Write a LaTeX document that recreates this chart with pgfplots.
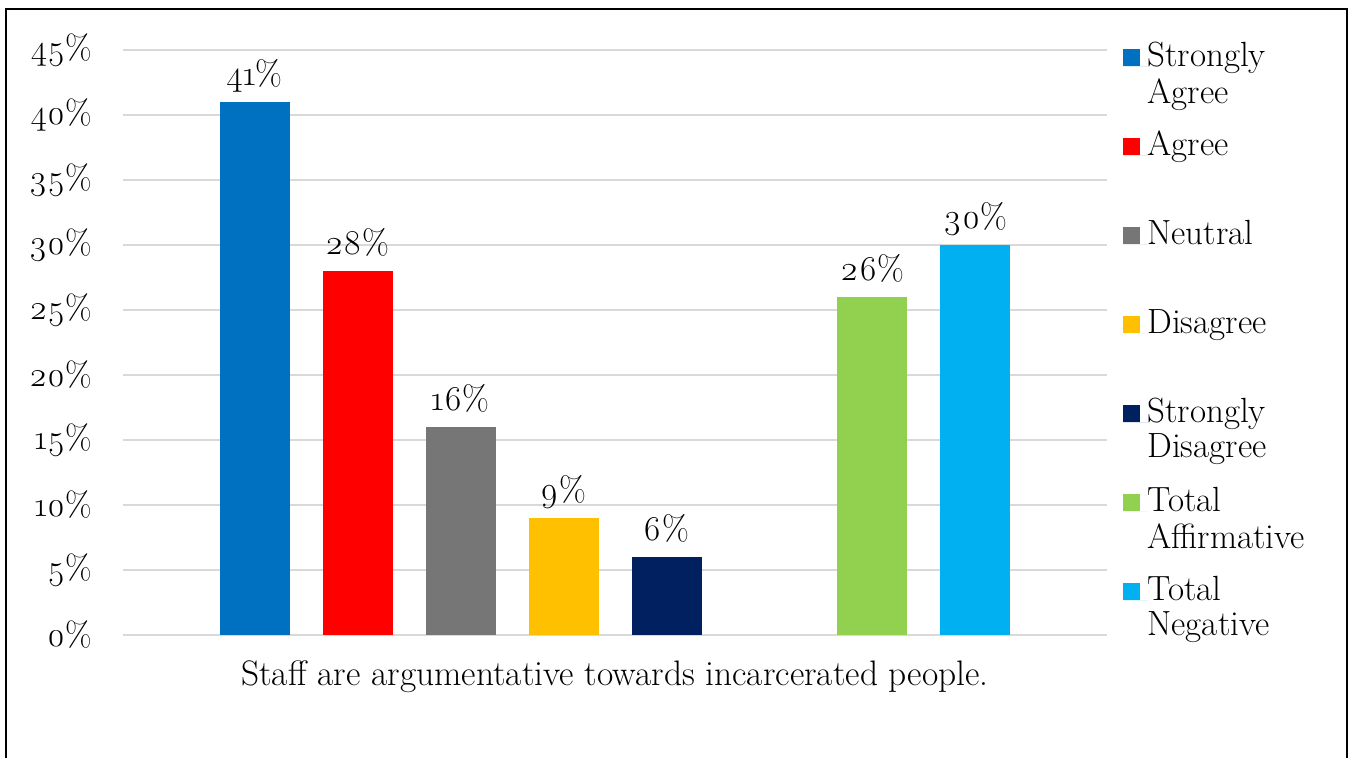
\documentclass[border=0pt]{standalone}
\usepackage{fontspec}
\setmainfont{Latin Modern Roman}[Numbers=OldStyle]
\usepackage{pgfplots}
\pgfplotsset{compat=1.18}
\definecolor{csa}{HTML}{0070C0}
\definecolor{cag}{HTML}{FF0000}
\definecolor{cne}{HTML}{767676}
\definecolor{cdi}{HTML}{FFC000}
\definecolor{csd}{HTML}{002060}
\definecolor{cta}{HTML}{92D050}
\definecolor{ctn}{HTML}{00B0F0}
\definecolor{cgrid}{HTML}{D9D9D9}
\newcommand{\legtext}[1]{\parbox[t]{120pt}{\strut#1}}
\begin{document}
\begin{tikzpicture}
\begin{axis}[
  at={(61.5pt,61pt)}, anchor=south west,
  scale only axis, width=492pt, height=292.5pt,
  xmin=-1.277, xmax=8.277, ymin=0, ymax=45,
  ybar, bar shift=0pt, bar width=35pt,
  axis line style={draw=none},
  xtick=\empty,
  ytick={0,5,...,45},
  major tick length=0pt,
  ymajorgrids, grid style={draw=cgrid, line width=0.75pt},
  /pgf/number format/assume math mode=true,
  yticklabel={\pgfmathprintnumber{\tick}\%},
  yticklabel style={anchor=east, inner xsep=0pt, xshift=-15.5pt},
  tick label style={font=\fontsize{17.2}{20}\selectfont},
  nodes near coords={\pgfmathprintnumber{\pgfplotspointmeta}\%},
  nodes near coords style={anchor=base, yshift=8.5pt, font=\fontsize{17.4}{20}\selectfont, text=black},
  xlabel={Staff are argumentative towards incarcerated people.},
  xlabel style={at={(axis description cs:0.5,0)}, anchor=base, yshift=-25pt, font=\fontsize{17.7}{21}\selectfont},
  legend style={at={(axis description cs:1.01626,1.0145)}, anchor=north west, draw=none, fill=none, inner sep=0pt, row sep=32.25pt,
    nodes={inner sep=0pt, anchor=base west, text height=12.25pt, text depth=0pt}, font=\fontsize{17.5}{17.5}\selectfont},
  legend image code/.code={\draw[#1, draw=none] (0pt,0pt) rectangle (8.5pt,8.5pt); \path (0pt,0pt) -- (12pt,0pt);},
]
\addplot[fill=csa, draw=none] coordinates {(0,41)};
\addlegendentry{\legtext{Strongly\\Agree}}
\addplot[fill=cag, draw=none] coordinates {(1,28)};
\addlegendentry{\legtext{Agree}}
\addplot[fill=cne, draw=none] coordinates {(2,16)};
\addlegendentry{\legtext{Neutral}}
\addplot[fill=cdi, draw=none] coordinates {(3,9)};
\addlegendentry{\legtext{Disagree}}
\addplot[fill=csd, draw=none] coordinates {(4,6)};
\addlegendentry{\legtext{Strongly\\Disagree}}
\addplot[fill=cta, draw=none] coordinates {(6,26)};
\addlegendentry{\legtext{Total\\Affirmative}}
\addplot[fill=ctn, draw=none] coordinates {(7,30)};
\addlegendentry{\legtext{Total\\Negative}}
\end{axis}
\draw[line width=1.1pt, black] (3pt,-10pt) rectangle (673.5pt,373.9pt);
\pgfresetboundingbox
\path[use as bounding box] (0pt,0pt) rectangle (674.5pt,378.5pt);
\end{tikzpicture}
\end{document}
